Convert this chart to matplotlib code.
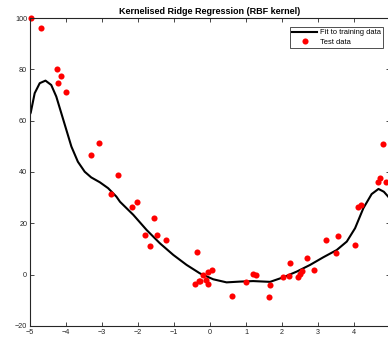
import matplotlib.pyplot as plt
import numpy as np

# ------------------------------
# data
# ------------------------------
fit_x = [-5.0, -4.98, -4.87, -4.73, -4.57, -4.41, -4.27, -4.13, -3.99, -3.85,
         -3.67, -3.48, -3.30, -3.06, -2.83, -2.60, -2.50, -2.13, -1.76, -1.39,
         -1.02, -0.65, -0.28, 0.09, 0.46, 0.83, 1.20, 1.67, 2.04, 2.41,
         2.78, 3.15, 3.52, 3.80, 4.03, 4.26, 4.49, 4.68, 4.83, 4.95, 5.0]
fit_y = [62.5, 63.1, 70.7, 74.6, 75.6, 73.9, 69.4, 62.9, 56.4, 49.9,
         44.0, 40.1, 37.9, 36.0, 33.7, 30.4, 28.4, 23.3, 17.4, 12.2,
         7.7, 3.8, 0.5, -1.8, -3.0, -2.7, -2.5, -2.8, -1.0, 1.2,
         3.8, 6.8, 9.6, 12.9, 18.1, 25.9, 31.4, 33.4, 32.3, 30.4, 29.5]

test_x = [-4.96, -4.69, -4.25, -4.13, -4.22, -4.01, -3.30, -3.09, -2.56, -2.74,
          -2.18, -2.03, -1.55, -1.80, -1.47, -1.68, -1.21, -0.41, -0.36, -0.30,
          -0.27, -0.19, -0.11, -0.06, -0.06, 0.06, 0.61, 1.00, 1.19, 1.29,
          1.67, 1.65, 2.03, 2.20, 2.22, 2.45, 2.51, 2.56, 2.70, 2.88,
          3.22, 3.55, 3.50, 4.03, 4.12, 4.19, 4.67, 4.73, 4.88, 4.81]
test_y = [100.0, 96.0, 80.1, 77.3, 74.6, 71.1, 46.5, 51.4, 38.8, 31.4,
          26.5, 28.3, 22.0, 15.3, 15.3, 11.1, 13.5, -3.6, 8.7, -2.5,
          -2.6, 0.0, -2.1, -3.6, 1.05, 1.8, -8.2, -2.8, 0.3, -0.1,
          -3.9, -8.8, -0.8, -0.5, 4.4, -0.8, 0.4, 1.3, 6.5, 1.7,
          13.5, 14.9, 8.3, 11.4, 26.5, 27.2, 36.0, 37.8, 36.0, 50.8]

x_ticks = [-5, -4, -3, -2, -1, 0, 1, 2, 3, 4]
y_ticks = [-20, 0, 20, 40, 60, 80, 100]

# ------------------------------
# plot
# ------------------------------
plt.rcParams['font.family'] = ['Liberation Sans', 'DejaVu Sans']

fig = plt.figure(figsize=(3.88, 3.41), dpi=100)
# the right edge of the axes sits just outside the picture, as in the reference
ax = fig.add_axes([30 / 388, 15 / 341, 360 / 388, 308 / 341])

ax.plot(fit_x, fit_y, color="black", linewidth=1.5, solid_joinstyle="round",
        label="Fit to training data")
ax.plot(test_x, test_y, "o", color="red", markersize=4.4,
        markeredgewidth=0, label="Test data", clip_on=False)

ax.set_xlim(-5, 5)
ax.set_ylim(-20, 100)
ax.set_xticks(x_ticks)
ax.set_yticks(y_ticks)

ax.tick_params(direction="in", length=3, width=0.6, top=True, right=True,
               labelsize=5.2, colors="#262626", pad=2)
for s in ax.spines.values():
    s.set_linewidth(0.8)
    s.set_color("#262626")

ax.set_title("Kernelised Ridge Regression (RBF kernel)", fontsize=6.5,
             fontweight="bold", pad=3)

leg = ax.legend(loc="upper right", bbox_to_anchor=(0.981, 0.971),
                fontsize=5.4, frameon=True, fancybox=False,
                edgecolor="black", borderpad=0.3, labelspacing=0.25,
                handlelength=3.3, handletextpad=0.4, borderaxespad=0)
leg.get_frame().set_linewidth(0.6)

fig.savefig("out.png", dpi=100)
